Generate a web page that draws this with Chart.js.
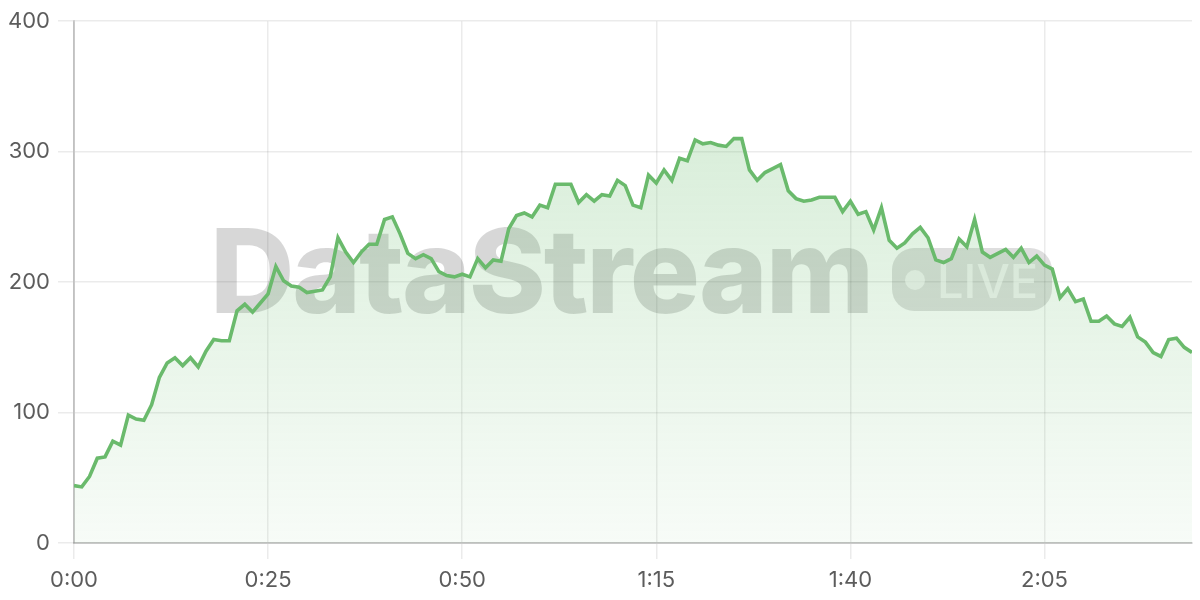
<!DOCTYPE html>
<html>
<head>
<meta charset="utf-8">
<script src="https://cdn.jsdelivr.net/npm/chart.js@4/dist/chart.umd.min.js"></script>
<style>
  html, body { margin: 0; padding: 0; background: #ffffff; }
  #wrap { position: relative; width: 1200px; height: 600px; }
</style>
</head>
<body>
<div id="wrap"><canvas id="c" width="1200" height="600"></canvas></div>
<script>
// Minutes since start (x categories)
const minutes = [0,1,2,3,4,5,6,7,8,9,10,11,12,13,14,15,16,17,18,19,20,21,22,23,24,25,26,27,28,29,30,31,32,33,34,35,36,37,38,39,40,41,42,43,44,45,46,47,48,49,50,51,52,53,54,55,56,57,58,59,60,61,62,63,64,65,66,67,68,69,70,71,72,73,74,75,76,77,78,79,80,81,82,83,84,85,86,87,88,89,90,91,92,93,94,95,96,97,98,99,100,101,102,103,104,105,106,107,108,109,110,111,112,113,114,115,116,117,118,119,120,121,122,123,124,125,126,127,128,129,130,131,132,133,134,135,136,137,138,139,140,141,142,143,144];
// Series values
const values = [44,43,51,65,66,78,75,98,95,94,106,127,138,142,136,142,135,147,156,155,155,178,183,177,184,191,212,201,197,196,192,193,194,204,234,223,215,223,229,229,248,250,237,222,218,221,218,208,205,204,206,204,218,211,217,216,241,251,253,250,259,257,275,275,275,261,267,262,267,266,278,274,259,257,282,276,286,278,295,293,309,306,307,305,304,310,310,286,278,284,287,290,270,264,262,263,265,265,265,254,262,252,254,240,257,232,226,230,237,242,234,217,215,218,233,227,248,223,219,222,225,219,226,215,220,213,210,188,195,185,187,170,170,174,168,166,173,158,154,146,143,156,157,150,146];
// Tick positions and labels
const xTickValues = [0,25,50,75,100,125];
const xTickLabels = ["0:00","0:25","0:50","1:15","1:40","2:05"];
const yTickValues = [0,100,200,300,400];
const yTickLabels = ["0","100","200","300","400"];
const watermarkText = "DataStream";
const badgeText = "LIVE";

const points = minutes.map((m, i) => ({ x: m, y: values[i] }));

const watermark = {
  id: 'watermark',
  beforeDatasetsDraw(chart) {
    const ctx = chart.ctx;
    ctx.save();
    const size = 117;
    ctx.font = `800 ${size}px Inter, "DejaVu Sans", sans-serif`;
    ctx.textBaseline = 'alphabetic';
    ctx.textAlign = 'left';
    const targetW = 662;
    let w = ctx.measureText(watermarkText).width;
    if ('letterSpacing' in ctx) {
      ctx.letterSpacing = ((targetW - w) / (watermarkText.length)) + 'px';
    }
    ctx.fillStyle = 'rgba(0,0,0,0.155)';
    ctx.fillText(watermarkText, 210, 313);
    if ('letterSpacing' in ctx) ctx.letterSpacing = '0px';
    ctx.beginPath();
    if (ctx.roundRect) ctx.roundRect(892, 248, 160, 63, 22);
    else ctx.rect(892, 248, 160, 63);
    ctx.fillStyle = 'rgba(0,0,0,0.13)';
    ctx.fill();
    ctx.fillStyle = 'rgba(255,255,255,0.62)';
    ctx.beginPath();
    ctx.arc(915, 280, 10, 0, Math.PI * 2);
    ctx.fill();
    ctx.font = `500 47px Inter, "DejaVu Sans", sans-serif`;
    ctx.fillText(badgeText, 937, 298);
    ctx.restore();
  }
};

const ctx = document.getElementById('c').getContext('2d');
new Chart(ctx, {
  type: 'line',
  data: {
    datasets: [{
      data: points,
      borderColor: 'rgb(106,186,108)',
      borderWidth: 3.6,
      pointRadius: 0,
      tension: 0,
      fill: 'origin',
      backgroundColor: (c) => {
        const area = c.chart.chartArea;
        if (!area) return 'rgba(102,187,106,0.15)';
        const g = c.chart.ctx.createLinearGradient(0, area.top, 0, area.bottom);
        g.addColorStop(0, 'rgba(102,187,106,0.30)');
        g.addColorStop(1, 'rgba(102,187,106,0.05)');
        return g;
      }
    }]
  },
  options: {
    responsive: false,
    animation: false,
    layout: { padding: { top: 20, right: 8, left: 0, bottom: 0 } },
    plugins: { legend: { display: false }, tooltip: { enabled: false } },
    scales: {
      x: {
        type: 'linear',
        min: 0,
        max: 144,
        afterBuildTicks: (s) => { s.ticks = xTickValues.map(v => ({ value: v })); },
        afterFit: (s) => { s.height = 57; },
        ticks: {
          callback: (v) => xTickLabels[xTickValues.indexOf(v)] ?? '',
          color: '#5c5c5c',
          font: { family: 'Inter', size: 22 },
          padding: 8,
          maxRotation: 0,
          autoSkip: false
        },
        grid: { color: 'rgba(0,0,0,0.08)', lineWidth: 1.5, tickLength: 16 },
        border: { color: 'rgba(0,0,0,0.18)', width: 2 }
      },
      y: {
        min: 0,
        max: 400,
        afterBuildTicks: (s) => { s.ticks = yTickValues.map(v => ({ value: v })); },
        afterFit: (s) => { s.width = 74; },
        ticks: {
          callback: (v) => yTickLabels[yTickValues.indexOf(v)] ?? '',
          color: '#5c5c5c',
          font: { family: 'Inter', size: 22 },
          padding: 8
        },
        grid: { color: 'rgba(0,0,0,0.08)', lineWidth: 1.5, tickLength: 16 },
        border: { color: 'rgba(0,0,0,0.18)', width: 2 }
      }
    }
  },
  plugins: [watermark]
});
</script>
</body>
</html>
